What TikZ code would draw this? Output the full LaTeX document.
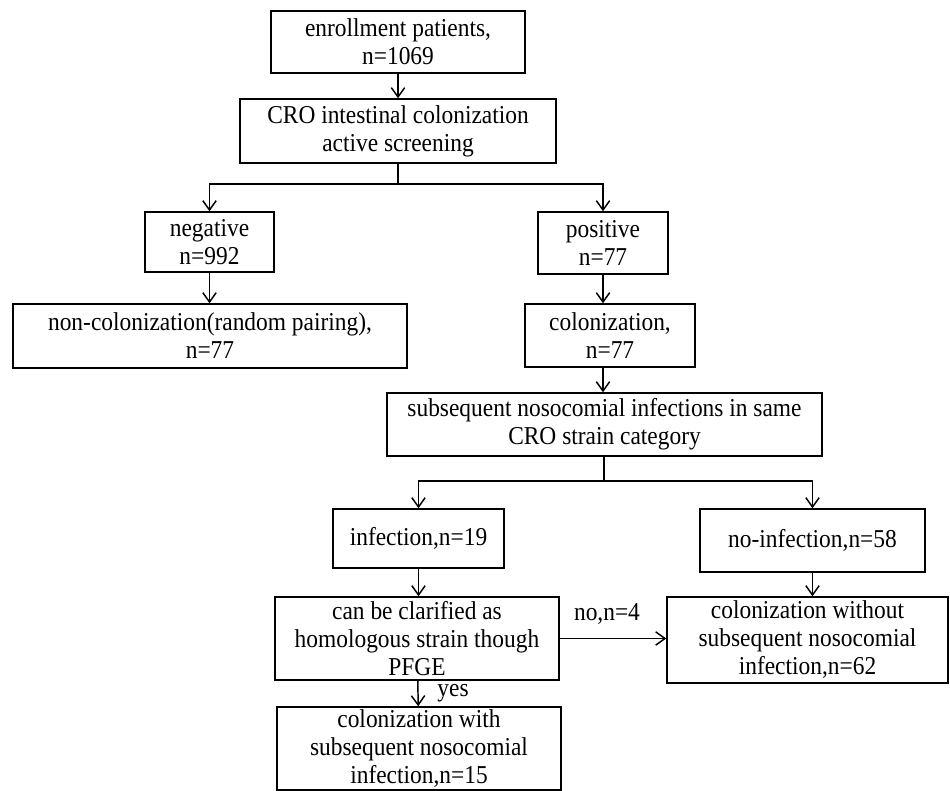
\documentclass[tikz,border=0pt]{standalone}
\usepackage{fontspec}
\setmainfont{Liberation Serif}[FakeStretch=0.91]
\usetikzlibrary{arrows.meta}

\tikzset{
  flowbox/.style={draw, line width=1.1pt, align=center, inner sep=0pt,
    font=\fontsize{19.3}{21}\selectfont},
  flowline/.style={line width=1.1pt},
  flowarrow/.style={line width=1.1pt, -{Straight Barb[length=7pt,width=10pt]}},
  flowlabel/.style={inner sep=0pt, font=\fontsize{19.3}{21}\selectfont},
}

\begin{document}
\begin{tikzpicture}[x=0.75pt,y=0.75pt,yscale=-1,xscale=1]
  \useasboundingbox (0,0) rectangle (950,791);

  % screening part
  \node[flowbox, minimum width=190.5pt, minimum height=46.5pt] (enroll) at (398,42) {enrollment patients,\\n=1069};
  \node[flowbox, minimum width=237pt, minimum height=48pt] (screen) at (398,131) {CRO intestinal colonization\\active screening};
  \node[flowbox, minimum width=96.75pt, minimum height=45pt] (negative) at (209.5,242) {negative\\n=992};
  \node[flowbox, minimum width=97.5pt, minimum height=46.5pt] (positive) at (603,243) {positive\\n=77};
  \node[flowbox, minimum width=295.5pt, minimum height=48pt] (noncolon) at (210,336) {non-colonization(random pairing),\\n=77};
  \node[flowbox, minimum width=127.5pt, minimum height=47.25pt] (colon) at (610,335.5) {colonization,\\n=77};
  \node[flowbox, minimum width=326.25pt, minimum height=47.25pt] (subseq) at (604.5,424.5) {subsequent nosocomial infections in same\\CRO strain category};

  % infection part
  \node[flowbox, minimum width=128.25pt, minimum height=44.25pt] (infect) at (418.5,538.5) {infection,n=19};
  \node[flowbox, minimum width=168.75pt, minimum height=47.25pt] (noinfect) at (812.5,540.5) {no-infection,n=58};
  \node[flowbox, minimum width=213pt, minimum height=62.25pt] (clarify) at (417,638.5) {can be clarified as\\homologous strain though\\PFGE};
  \node[flowbox, minimum width=210.75pt, minimum height=64.5pt] (colwithout) at (807.5,640) {colonization without\\subsequent nosocomial\\infection,n=62};
  \node[flowbox, minimum width=213pt, minimum height=62.25pt] (colwith) at (419,748.5) {colonization with\\subsequent nosocomial\\infection,n=15};

  \coordinate (splitA) at (398,184);
  \coordinate (splitB) at (604,481);

  % connectors
  \draw[flowarrow] (enroll) -- (screen);
  \draw[flowline] (screen) -- (splitA);
  \draw[flowarrow] (splitA) -| (negative.north);
  \draw[flowarrow] (splitA) -| (positive.north);
  \draw[flowarrow] (negative) -- (noncolon.north -| negative.south);
  \draw[flowarrow] (positive) -- (colon.north -| positive.south);
  \draw[flowarrow] (colon.south -| positive.south) -- (subseq.north -| positive.south);
  \draw[flowline] (subseq.south -| splitB) -- (splitB);
  \draw[flowarrow] (splitB) -| (infect.north);
  \draw[flowarrow] (splitB) -| (noinfect.north);
  \draw[flowarrow] (infect) -- (clarify.north -| infect.south);
  \draw[flowarrow] (noinfect) -- (colwithout.north -| noinfect.south);
  \draw[flowarrow] (clarify.east) -- (colwithout.west |- clarify.east);
  \draw[flowarrow] (clarify) -- (colwith);

  \node[flowlabel] (nolabel) at (607,614) {no,n=4};
  \node[flowlabel] (yeslabel) at (453,693) {yes};

\end{tikzpicture}
\end{document}
